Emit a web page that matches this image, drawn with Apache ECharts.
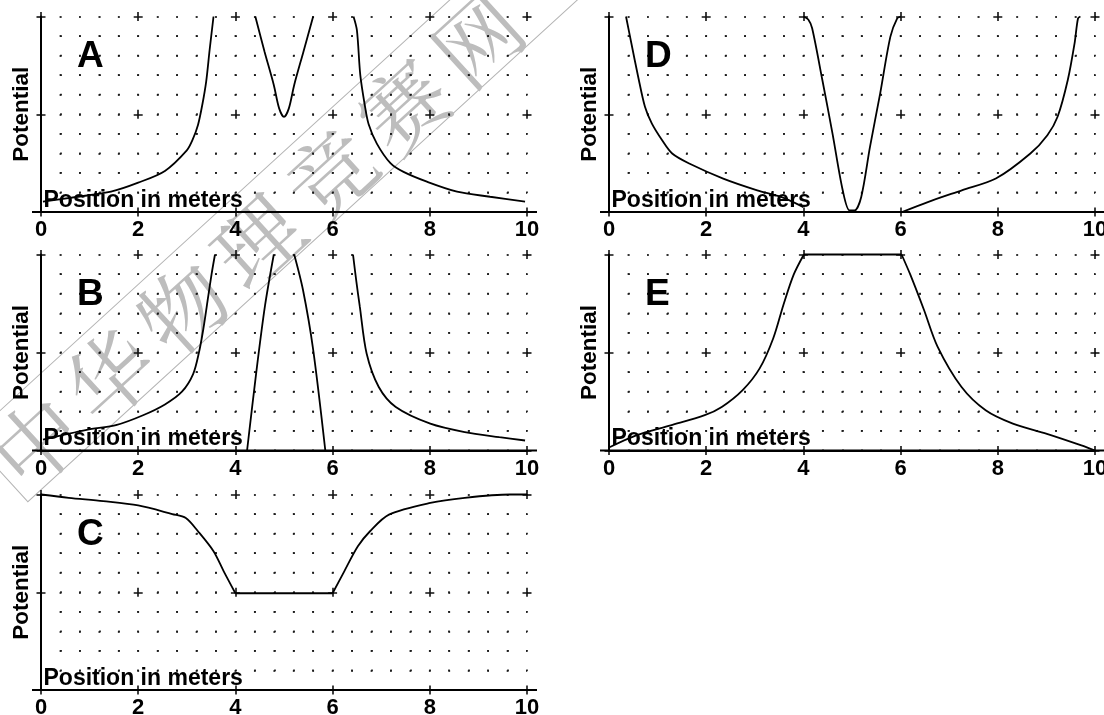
<!DOCTYPE html>
<html><head><meta charset="utf-8">
<script src="https://cdn.jsdelivr.net/npm/echarts@6/dist/echarts.min.js"></script>
<style>html,body{margin:0;padding:0;background:#fff}#c{width:1104px;height:715px}</style>
</head><body><div id="c"></div>
<script>
// ---------- data (x in meters, y in potential units 0..10) ----------
const panelNames = ['A', 'B', 'C', 'D', 'E'];
const xTickValues = [0, 2, 4, 6, 8, 10];
const xTickLabels = ['0', '2', '4', '6', '8', '10'];
const xAxisName = 'Position in meters';
const yAxisName = 'Potential';
const watermarkText = '中华物理竞赛网';

const aLeft  = [[0.04,0.53],[0.76,0.78],[1.44,1.04],[2.0,1.5],[2.55,2.1],[3.0,3.15],[3.12,3.7],[3.23,4.45],[3.32,5.5],[3.4,6.7],[3.47,8.3],[3.55,10]];
const aMid   = [[4.41,10],[4.6,8.2],[4.79,6.5],[4.9,5.3],[5.0,4.87],[5.1,5.3],[5.21,6.5],[5.4,8.2],[5.6,10]];
const aRight = [[6.43,10],[6.5,9.3],[6.57,7.0],[6.66,5.5],[6.74,4.5],[6.91,3.5],[7.19,2.5],[7.46,2.05],[7.94,1.55],[8.56,1.04],[9.24,0.78],[9.96,0.53]];

const bLeft     = [[0.04,0.55],[0.94,1.05],[1.56,1.31],[2.1,1.8],[2.55,2.35],[2.9,3.0],[3.13,3.9],[3.25,5.0],[3.34,6.2],[3.44,7.85],[3.51,9.0],[3.58,10]];
const bPeakUp   = [[4.24,0],[4.43,4.0],[4.61,7.4],[4.79,10]];
const bPeakDown = [[5.21,10],[5.39,8.2],[5.6,5.15],[5.85,0]];
const bRight    = [[6.42,10],[6.49,8.6],[6.56,7.34],[6.7,4.95],[6.95,3.24],[7.3,2.22],[8.01,1.37],[8.72,0.94],[9.43,0.68],[9.96,0.51]];

const cLeft  = [[0,10],[0.57,9.83],[1.28,9.66],[2.0,9.44],[2.7,9.0],[2.98,8.8],[3.23,8.12],[3.55,7.1],[3.76,6.07],[4.0,4.95]];
const cFlat  = [[4.0,4.95],[6.0,4.95]];
const cRight = [[6.0,4.95],[6.24,6.07],[6.52,7.35],[6.77,8.12],[7.16,8.97],[8.01,9.57],[8.72,9.83],[9.65,10],[10,10]];

const dLeft  = [[0.35,10],[0.46,8.63],[0.6,6.92],[0.74,5.38],[0.88,4.53],[1.09,3.68],[1.3,2.99],[1.65,2.48],[2.35,1.71],[3.05,1.11],[3.54,0.77],[4.0,0.25]];
const dMid   = [[4.0,10],[4.1,9.85],[4.18,9.4],[4.39,6.75],[4.6,4.0],[4.81,1.1],[4.95,0.08],[5.05,0.08],[5.19,0.77],[5.37,3.33],[5.58,6.07],[5.79,8.97],[5.93,9.9],[6.0,10]];
const dRight = [[6.03,0],[6.56,0.51],[7.26,1.11],[7.96,1.71],[8.67,2.99],[9.02,3.93],[9.23,4.87],[9.44,6.75],[9.58,8.63],[9.65,9.9],[9.7,10]];

const eLeft  = [[0.0,0.15],[0.56,0.77],[1.27,1.28],[1.97,1.8],[2.32,2.22],[2.75,3.08],[3.1,4.19],[3.38,5.73],[3.59,7.44],[3.8,8.97],[4.01,10]];
const eTop   = [[4.01,10],[6.02,10]];
const eRight = [[6.02,10],[6.2,8.97],[6.48,7.18],[6.76,5.3],[7.25,3.25],[7.75,2.05],[8.31,1.37],[9.01,0.85],[9.72,0.26],[10,0]];

const panelSegments = [
  [aLeft, aMid, aRight],
  [bLeft, bPeakUp, bPeakDown, bRight],
  [cLeft, cFlat, cRight],
  [dLeft, dMid, dRight],
  [eLeft, eTop, eRight]
];

// ---------- layout / style ----------
const FONT = '"Liberation Sans", Arial, sans-serif';
const GRID_W = 486;
const layout = [
  {left: 41,  top: 16.5,  h: 195.5},
  {left: 41,  top: 254.5, h: 196},
  {left: 41,  top: 494.5, h: 195.5},
  {left: 609, top: 16.5,  h: 195.5},
  {left: 609, top: 254.5, h: 196}
];
const ARM = 4.5, DOT = 1.8;

function crossDash(period, arm, dot) {
  const m = period / 5, g1 = m - arm - dot / 2, g = m - dot;
  return {type: [2 * arm, g1, dot, g, dot, g, dot, g, dot, g1], dashOffset: arm};
}
function dotDash(m, dot) {
  return {type: [dot, m - dot], dashOffset: dot / 2};
}

const grid = [], xAxis = [], yAxis = [], series = [], title = [];
panelNames.forEach((nm, i) => {
  const L = layout[i];
  const mx = GRID_W * 0.04, my = L.h / 10;
  grid.push({left: L.left, top: L.top, width: GRID_W, height: L.h, outerBoundsMode: 'none', containLabel: false});
  xAxis.push({
    type: 'value', gridIndex: i, min: 0, max: 10, interval: 2, position: 'bottom',
    axisLine: {show: true, onZero: false, lineStyle: {color: '#000', width: 2}},
    axisTick: {show: true, inside: false, length: ARM, lineStyle: {color: '#000', width: 1.5}},
    axisLabel: {show: true, margin: 7, color: '#000', fontFamily: FONT, fontSize: 22, fontWeight: 'bold',
      formatter: v => xTickLabels[xTickValues.indexOf(v)]},
    splitLine: {show: true, lineStyle: Object.assign({color: '#111', width: 1.6}, crossDash(5 * my, ARM, DOT))},
    minorTick: {show: false, splitNumber: 5},
    minorSplitLine: {show: true, lineStyle: Object.assign({color: '#111', width: 1.6}, dotDash(my, DOT))},
    name: xAxisName, nameLocation: 'start', nameGap: -2.5,
    nameTextStyle: {color: '#000', fontFamily: FONT, fontSize: 23, fontWeight: 'bold', align: 'left', verticalAlign: 'bottom'}
  });
  xAxis.push({
    type: 'value', gridIndex: i, min: 0, max: 10, interval: 2, position: 'top',
    axisLine: {show: false, onZero: false},
    axisTick: {show: true, inside: false, length: ARM, lineStyle: {color: '#000', width: 1.5}},
    axisLabel: {show: false}, splitLine: {show: false}
  });
  yAxis.push({
    type: 'value', gridIndex: i, min: 0, max: 10, interval: 5, position: 'left',
    axisLine: {show: true, onZero: false, lineStyle: {color: '#000', width: 2}},
    axisTick: {show: true, inside: false, length: ARM, lineStyle: {color: '#000', width: 1.5}},
    axisLabel: {show: false},
    splitLine: {show: true, lineStyle: Object.assign({color: '#111', width: 1.6}, crossDash(5 * mx, ARM, DOT))},
    minorTick: {show: false, splitNumber: 5},
    minorSplitLine: {show: true, lineStyle: Object.assign({color: '#111', width: 1.6}, dotDash(mx, DOT))},
    name: yAxisName, nameLocation: 'middle', nameRotate: 90, nameGap: 8,
    nameTextStyle: {color: '#000', fontFamily: FONT, fontSize: 22.5, fontWeight: 'bold'}
  });
  yAxis.push({
    type: 'value', gridIndex: i, min: 0, max: 10, interval: 5, position: 'right',
    axisLine: {show: false, onZero: false},
    axisTick: {show: true, inside: false, length: ARM, lineStyle: {color: '#000', width: 1.5}},
    axisLabel: {show: false}, splitLine: {show: false}
  });
  title.push({
    text: nm, left: L.left + 36, top: L.top + 22, padding: 0,
    textStyle: {fontFamily: FONT, fontSize: 37, fontWeight: 'bold', color: '#000'}
  });
  panelSegments[i].forEach(seg => {
    series.push({
      type: 'line', xAxisIndex: 2 * i, yAxisIndex: 2 * i, data: seg,
      showSymbol: false, symbol: 'none', smooth: seg.length > 2 ? 0.3 : false,
      lineStyle: {color: '#000', width: 1.8}, clip: false, silent: true, z: 3
    });
  });
});

const chart = echarts.init(document.getElementById('c'), null, {renderer: 'canvas'});
const wmChars = Array.from(watermarkText);
const watermark = {
  type: 'group', id: 'wm', x: 257, y: 241, rotation: 42.4 * Math.PI / 180, z: 1, silent: true,
  children: [
    {type: 'rect', shape: {x: -345, y: -48, width: 760, height: 86},
     style: {fill: 'none', stroke: '#b4b4b4', lineWidth: 1}},
  ].concat(wmChars.map((ch, k) => ({
    type: 'text', x: (k - (wmChars.length - 1) / 2) * 99.6, y: 0,
    style: {text: ch, fontFamily: '"Noto Serif CJK SC", "Noto Sans CJK SC", sans-serif', fontSize: 86,
      fill: '#bdbdbd', align: 'center', verticalAlign: 'middle'}
  })))
};

chart.setOption({
  animation: false,
  backgroundColor: '#fff',
  title, grid, xAxis, yAxis, series,
  graphic: [watermark]
});

// extend each x-axis line a little beyond both ends, as in the original
const ext = [];
panelNames.forEach((nm, i) => {
  const p0 = chart.convertToPixel({gridIndex: i}, [0, 0]);
  const p1 = chart.convertToPixel({gridIndex: i}, [10, 0]);
  ext.push({type: 'line', id: 'ext' + i, silent: true, z: 2,
    shape: {x1: p0[0] - 9, y1: p0[1], x2: p1[0] + 10, y2: p1[1]},
    style: {stroke: '#000', lineWidth: 2}});
});
chart.setOption({graphic: [watermark].concat(ext)});
</script>
</body></html>
